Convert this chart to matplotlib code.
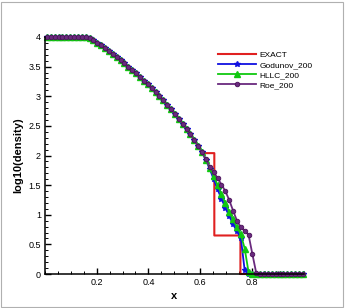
import numpy as np
import matplotlib
matplotlib.use("Agg")
import matplotlib.pyplot as plt
from matplotlib.ticker import MultipleLocator, FixedLocator, FormatStrFormatter
from matplotlib.patches import Rectangle

plt.rcParams["font.family"] = ["Liberation Sans", "DejaVu Sans"]

# exact solution (rarefaction + steps)
x_exact = [0.0, 0.17, 0.2, 0.25, 0.3, 0.35, 0.4, 0.45, 0.5, 0.55, 0.6, 0.613,
           0.613, 0.655, 0.655, 0.756, 0.756, 1.0]
rho_exact = [4.0, 4.0, 3.91, 3.751, 3.58, 3.394, 3.191, 2.966, 2.716, 2.433, 2.107, 2.02,
             2.04, 2.04, 0.65, 0.65, 0.0, 0.0]

# sampled cell centres (every 3rd of 200 cells)
x_num = np.linspace(0.0075, 0.9975, 67)

# rarefaction part, shared by the three schemes (first 41 samples)
rho_fan = [4.0, 4.0, 4.0, 4.0, 4.0, 4.0, 4.0, 4.0, 4.0, 4.0, 3.998,
           3.985, 3.952, 3.905, 3.857, 3.809, 3.76, 3.71, 3.659, 3.607, 3.553,
           3.498, 3.442, 3.384, 3.325, 3.264, 3.201, 3.137, 3.07, 3.001, 2.93,
           2.857, 2.781, 2.703, 2.621, 2.536, 2.448, 2.356, 2.26, 2.159, 2.054]

tail_godunov = [1.92, 1.77, 1.60, 1.43, 1.27, 1.12, 0.98, 0.84, 0.72, 0.61, 0.06, 0.0,
                0.0, 0.0, 0.0, 0.0, 0.0, 0.0, 0.0, 0.0, 0.0, 0.0, 0.0, 0.0, 0.0, 0.0]
tail_hllc = [1.93, 1.79, 1.65, 1.50, 1.35, 1.20, 1.05, 0.92, 0.79, 0.67, 0.43, 0.03,
             0.0, 0.0, 0.0, 0.0, 0.0, 0.0, 0.0, 0.0, 0.0, 0.0, 0.0, 0.0, 0.0, 0.0]
tail_roe = [1.94, 1.81, 1.72, 1.62, 1.51, 1.40, 1.25, 1.07, 0.90, 0.79, 0.73, 0.66,
            0.33, 0.01, 0.0, 0.0, 0.0, 0.0, 0.0, 0.0, 0.0, 0.0, 0.0, 0.0, 0.0, 0.0]

rho_godunov = rho_fan + tail_godunov
rho_hllc = rho_fan + tail_hllc
rho_roe = rho_fan + tail_roe

fig = plt.figure(figsize=(3.46, 3.08), dpi=100)
ax = fig.add_axes([45 / 346, 34 / 308, 258.5 / 346, 237 / 308])

ax.plot(x_exact, rho_exact, color="#e02020", lw=1.5, label="EXACT", clip_on=False)
ax.plot(x_num, rho_godunov, color="#1010e0", lw=1.3, marker="*", ms=4.2,
        label="Godunov_200", clip_on=False)
ax.plot(x_num, rho_hllc, color="#10c810", lw=1.3, marker="^", ms=4.2,
        label="HLLC_200", clip_on=False)
ax.plot(x_num, rho_roe, color="#6a2a7e", lw=1.3, marker="o", ms=3.3,
        mfc="#6a2a7e", mec="#4a1058", mew=0.6, label="Roe_200", clip_on=False)

ax.set_xlim(0, 1)
ax.set_ylim(0, 4)
for s in ["top", "right"]:
    ax.spines[s].set_visible(False)
for s in ["left", "bottom"]:
    ax.spines[s].set_linewidth(1.1)

ax.xaxis.set_major_locator(FixedLocator([0.2, 0.4, 0.6, 0.8]))
ax.xaxis.set_minor_locator(MultipleLocator(0.05))
ax.yaxis.set_major_locator(MultipleLocator(0.5))
ax.yaxis.set_minor_locator(MultipleLocator(0.1))
ax.yaxis.set_major_formatter(FormatStrFormatter("%g"))
ax.xaxis.set_major_formatter(FormatStrFormatter("%g"))
ax.tick_params(which="major", direction="in", length=4, width=1, labelsize=6.5, pad=3)
ax.tick_params(which="minor", direction="in", length=2.2, width=0.7)

ax.set_xlabel("x", fontsize=8, fontweight="bold", labelpad=3)
ax.set_ylabel("log10(density)", fontsize=8, fontweight="bold", labelpad=4)

ax.legend(loc="upper left", bbox_to_anchor=(0.669, 0.94), frameon=False,
          fontsize=6, handlelength=4.6, handletextpad=0.4, labelspacing=0.25,
          borderpad=0, borderaxespad=0)

fig.patches.append(Rectangle((0.002, 0.004), 0.99, 0.99, transform=fig.transFigure,
                             fill=False, edgecolor="#b0b0b0", lw=0.8))

fig.savefig("out.png", dpi=100)
